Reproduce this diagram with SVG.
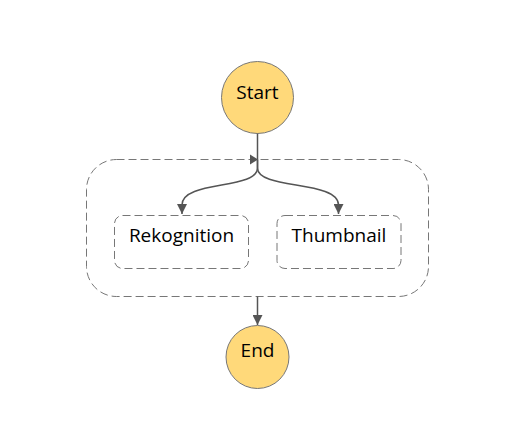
<svg xmlns="http://www.w3.org/2000/svg" width="530" height="443" viewBox="0 0 530 443">
<defs>
<marker id="arr" viewBox="0 0 10 10" refX="10" refY="5" markerWidth="10" markerHeight="10" markerUnits="userSpaceOnUse" orient="auto">
<path d="M0,0 L10,5 L0,10 Z" fill="#555"/>
</marker>
</defs>
<style>
.term{fill:#FFD97A;stroke:#777;stroke-width:1}
.dash{fill:none;stroke:#777;stroke-width:1;stroke-dasharray:8,4}
.edge{fill:none;stroke:#555;stroke-width:1.5}
text{font-family:"Open Sans","Noto Sans",sans-serif;font-size:19px;fill:#000;text-anchor:middle}
</style>
<rect width="530" height="443" fill="#fff"/>
<g id="parallel">
<rect class="dash" x="86.5" y="159.5" width="342" height="137" rx="30"/>
</g>
<g id="start">
<circle class="term" cx="257.5" cy="97.5" r="36"/>
<text x="257.5" y="99">Start</text>
</g>
<g id="rekognition">
<rect class="dash" x="114.5" y="215.5" width="134" height="53" rx="8"/>
<text x="181.5" y="242">Rekognition</text>
</g>
<g id="thumbnail">
<rect class="dash" x="277" y="215.5" width="124" height="53" rx="8"/>
<text x="339" y="242">Thumbnail</text>
</g>
<g id="end">
<circle class="term" cx="257.5" cy="357" r="31.5"/>
<text x="257.5" y="357">End</text>
</g>
<g id="connectors">
<path class="edge" d="M257.5,133.5 L257.5,159.5"/>
<path d="M250,154.5 L258,159.5 L250,164.5 Z" fill="#555"/>
<path class="edge" d="M257.5,159.5 L257.5,168 C257.5,190 182,180 182,205 L182,214" marker-end="url(#arr)"/>
<path class="edge" d="M257.5,159.5 L257.5,168 C257.5,190 338.5,180 338.5,205 L338.5,214" marker-end="url(#arr)"/>
<path class="edge" d="M257.5,296.5 L257.5,325" marker-end="url(#arr)"/>
</g>
</svg>
